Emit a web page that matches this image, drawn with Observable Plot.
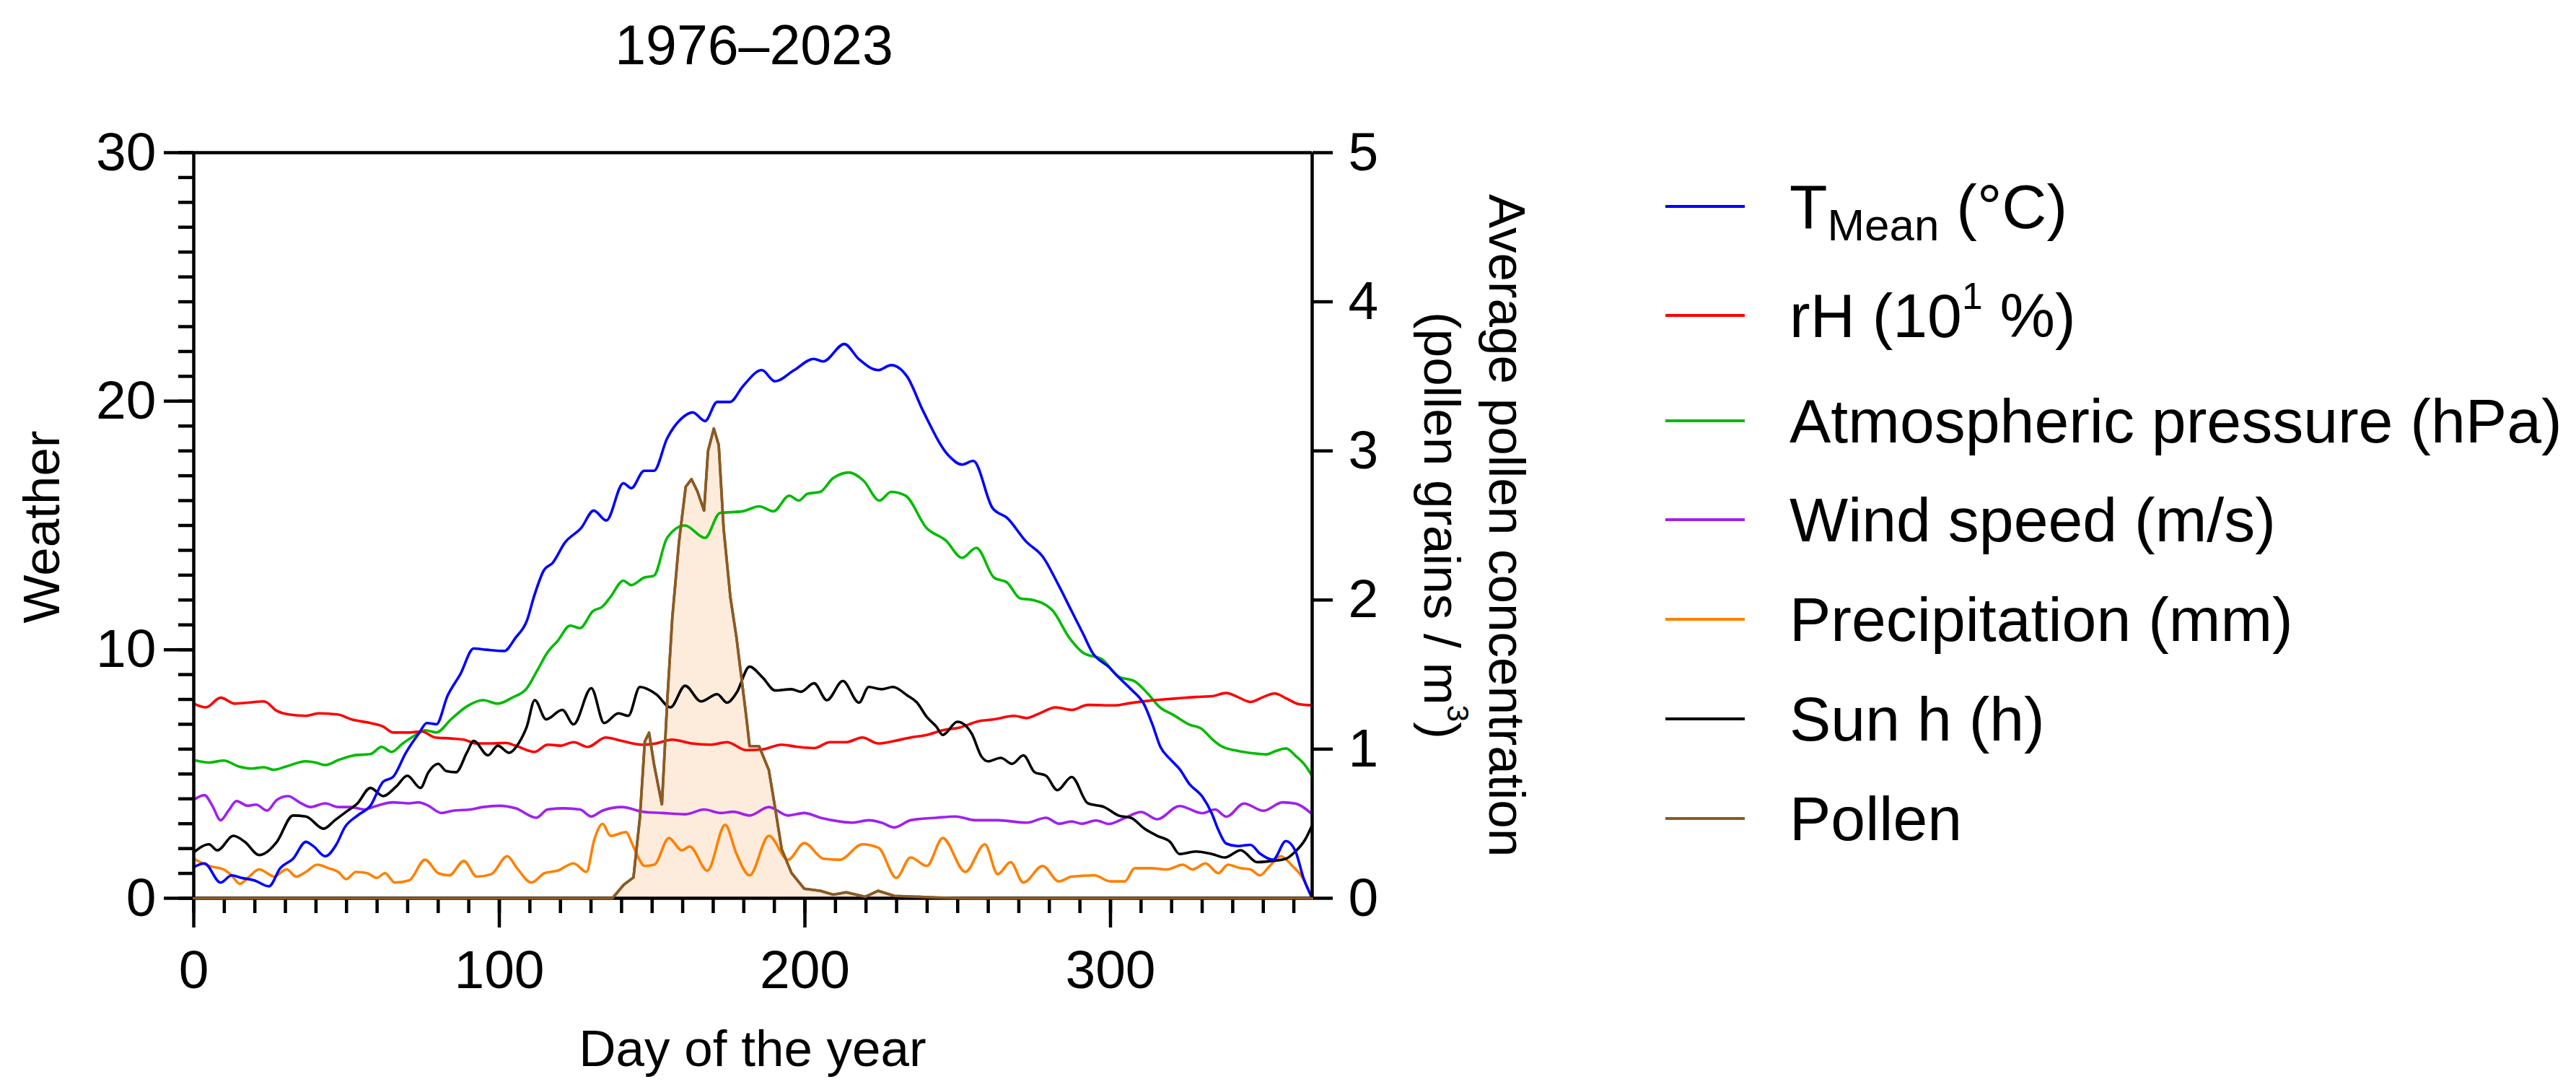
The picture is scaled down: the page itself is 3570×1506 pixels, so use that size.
<!DOCTYPE html>
<html>
<head>
<meta charset="utf-8">
<script src="https://cdn.jsdelivr.net/npm/d3@7"></script>
<script src="https://cdn.jsdelivr.net/npm/@observablehq/plot@0.6"></script>
<style>
  html, body { margin: 0; padding: 0; background: #fff; }
  body { width: 3570px; height: 1506px; position: relative; overflow: hidden;
         font-family: "Liberation Sans", Arial, sans-serif; color: #000; }
  #chart { position: absolute; left: 0; top: 0; }
  .lbl { position: absolute; white-space: nowrap; line-height: 1; }
  .legend-row { position: absolute; left: 2308px; height: 100px; display: flex; align-items: center;
                font-size: 86px; white-space: nowrap; line-height: 1; }
  .legend-row .sw { width: 110px; height: 4.5px; margin-right: 62px; }
  sub, sup { line-height: 0; }
  sub { font-size: 72%; vertical-align: -0.28em; }
  sup { font-size: 60%; vertical-align: 0.75em; }
</style>
</head>
<body>
<div id="chart"></div>
<script>
// ---------------- data ----------------
const dayDomain = [0, 366];
const weatherTicks = [0, 10, 20, 30];
const dayTicks = [0, 100, 200, 300];
const pollenTicks = [0, 1, 2, 3, 4, 5];
const pollenScale = 6; // 5 pollen units span 30 weather units

const seriesNames = ["TMean (°C)", "rH (10¹ %)", "Atmospheric pressure (hPa)", "Wind speed (m/s)", "Precipitation (mm)", "Sun h (h)", "Pollen"];
const seriesColors = ["#0000ff", "#ff0000", "#00bb00", "#a020f0", "#ff8000", "#000000", "#8b5a24"];

const tmean = [[0,1.25],[3.5,1.40],[8.8,0.63],[12.4,0.92],[15.6,0.82],[19.8,0.72],[24.6,0.48],[28.3,1.21],[32.5,1.59],[36.7,2.27],[39.3,2.08],[43,1.69],[46.7,2.17],[49.4,2.85],[53.6,3.33],[57.8,3.72],[62,4.69],[65.2,4.88],[69.4,5.85],[73.6,6.62],[76.3,7.05],[79.4,7.0],[83.1,8.16],[87.3,9.03],[91.6,10.05],[95.8,10.0],[101.6,9.95],[105.3,10.48],[109,11.16],[111.5,12.2],[114.6,13.2],[117.5,13.5],[121.4,14.3],[126.8,14.9],[130.9,15.6],[135,15.2],[140.6,16.7],[143.2,16.5],[147.4,17.2],[150.6,17.2],[154.9,18.5],[159.6,19.3],[163.3,19.55],[167.3,19.2],[171.3,19.97],[175.5,19.97],[179.7,20.6],[185.9,21.25],[190.2,20.8],[196.5,21.25],[202.9,21.7],[206,21.6],[212.9,22.3],[217.6,21.7],[224,21.25],[228.2,21.45],[233.4,21.0],[238.7,19.6],[247.1,17.8],[251.4,17.45],[255.1,17.6],[261.4,15.7],[266.2,15.3],[272.4,14.35],[277.8,13.75],[283,12.6],[287.3,11.55],[291,10.65],[294,9.9],[299.5,9.3],[302.6,8.9],[306.8,8.4],[311,7.8],[313.7,7.0],[316.3,6.1],[319.5,5.6],[322.6,5.2],[325.8,4.6],[330,4.1],[333.2,3.4],[335.3,2.75],[337.9,2.2],[341.6,2.1],[345.8,2.15],[348.9,1.8],[353.2,1.55],[357.4,2.3],[360.5,1.9],[363.2,0.8],[366,0]];

const rh = [[0,7.83],[4,7.68],[8.8,8.07],[13.5,7.83],[17.7,7.87],[23,7.92],[27.2,7.54],[31.4,7.39],[36.7,7.34],[40.9,7.44],[47.3,7.39],[51.5,7.2],[57.8,7.05],[62,6.91],[65.2,6.67],[70.5,6.67],[74.7,6.71],[78.9,6.47],[84.2,6.43],[88.4,6.38],[92.6,6.23],[97.9,6.23],[102.1,6.25],[105.3,6.14],[111.6,5.89],[115.8,6.18],[120,6.14],[124.3,6.28],[129,6.09],[134.8,6.47],[140.1,6.33],[147,6.18],[151.3,6.23],[156.5,6.38],[162.9,6.23],[169.2,6.18],[174.5,6.28],[180.8,5.96],[186.1,5.99],[192.4,6.18],[197.7,6.09],[203,6.04],[208.2,6.28],[213.5,6.28],[218.8,6.47],[224,6.23],[229.3,6.33],[234.6,6.47],[239.9,6.57],[245.1,6.76],[250.4,6.86],[256.8,7.12],[262,7.2],[268.4,7.34],[272.6,7.25],[276.8,7.44],[282.1,7.68],[287.3,7.58],[292.6,7.78],[301.6,7.76],[306.8,7.86],[312,7.94],[317.4,8.0],[322.6,8.05],[327.9,8.1],[333.2,8.13],[337.9,8.26],[341.6,8.1],[345.8,7.9],[350,8.1],[353.7,8.24],[357.4,8.05],[361.6,7.81],[366,7.76]];

const pressure = [[0,5.56],[5,5.46],[9.8,5.54],[14.6,5.31],[18.8,5.22],[23,5.27],[26.2,5.17],[30.4,5.31],[36.7,5.51],[39.9,5.46],[43,5.36],[47.3,5.56],[52.5,5.75],[57.8,5.8],[61.5,6.09],[64.7,5.89],[68.4,6.23],[72.6,6.57],[75.7,6.76],[79.4,6.67],[84.2,7.2],[89.5,7.73],[94.7,7.97],[99.5,7.83],[104.2,8.07],[109,8.45],[112.7,9.23],[115.8,9.9],[119,10.34],[123.2,10.97],[126.4,10.87],[130.6,11.55],[133.8,11.74],[136.4,12.13],[140.6,12.78],[143.2,12.6],[147.4,12.9],[150.6,12.98],[154.9,14.5],[160.7,15.0],[167.3,14.5],[172.2,15.5],[179.7,15.57],[185,15.77],[189.7,15.57],[194.9,16.2],[198,16.0],[200.8,16.27],[205,16.35],[209.2,16.9],[214.5,17.13],[219.2,16.8],[224.4,16.0],[228.2,16.35],[232.9,16.2],[239.8,14.9],[246.1,14.4],[251.4,13.7],[256.1,14.1],[261.9,12.9],[266.2,12.7],[270.4,12.07],[274.6,12.0],[280.9,11.6],[286.7,10.45],[291,9.88],[297.4,9.6],[302.6,8.92],[307.9,8.73],[312.1,8.25],[316.3,7.67],[320.5,7.38],[325.8,6.99],[330,6.8],[333.2,6.41],[336.3,6.12],[341.6,5.93],[346.8,5.83],[351.1,5.79],[354.2,5.93],[357.4,6.03],[360.5,5.74],[363.7,5.35],[366,4.92]];

const wind = [[0,3.96],[3.5,4.15],[6.1,3.72],[8.8,3.14],[11.4,3.53],[14,3.91],[17.7,3.72],[20.4,3.77],[24,3.53],[27.2,3.96],[30.9,4.11],[34.6,3.86],[38.3,3.67],[43,3.82],[47.3,3.67],[51.5,3.67],[55.7,3.57],[59.9,3.72],[65.2,3.86],[70.5,3.82],[73.6,3.86],[76.8,3.72],[81,3.43],[85.2,3.53],[90.5,3.57],[94.7,3.67],[100,3.72],[105.3,3.62],[112.1,3.24],[115.8,3.57],[121.1,3.62],[126.4,3.57],[130.1,3.29],[133.8,3.53],[140.1,3.67],[147,3.48],[153.4,3.43],[160.8,3.38],[167.1,3.57],[172.4,3.43],[176.6,3.48],[181.9,3.33],[188.2,3.67],[194.5,3.33],[199.8,3.43],[205.1,3.24],[211.4,3.09],[215.6,3.04],[220.9,3.14],[225.1,3.04],[229.3,2.85],[234.6,3.14],[243,3.24],[249.4,3.29],[255.7,3.14],[263.1,3.14],[272.6,3.04],[278.9,3.24],[283.1,3.0],[287.3,3.09],[290.5,3.0],[295.3,3.13],[299.5,2.99],[304.7,3.23],[310,3.47],[315.3,3.18],[322.6,3.71],[330,3.42],[334.2,3.57],[337.9,3.28],[343.7,3.81],[350,3.52],[356.3,3.86],[360.5,3.81],[366,3.38]];

const precip = [[0,1.59],[5,1.30],[9.8,1.16],[12.4,0.92],[15.1,0.58],[17.7,0.82],[21.4,1.16],[24.6,0.97],[26.2,0.87],[30.4,1.16],[33.5,0.87],[36.7,1.06],[40.4,1.35],[44.1,1.21],[47.3,1.06],[49.9,0.77],[53.1,1.06],[56.8,1.01],[59.9,0.82],[62.6,1.01],[65.8,0.63],[70.5,0.72],[75.7,1.55],[80,1.01],[83.6,0.92],[88.4,1.5],[92.6,0.87],[97.4,0.97],[102.6,1.69],[105.8,1.21],[110.5,0.63],[114.8,1.01],[119,1.11],[124.3,1.40],[128.5,1.06],[131.1,2.37],[133.8,2.99],[136.4,2.51],[141.5,2.66],[143.2,2.27],[144.9,1.79],[147.6,1.30],[150.7,1.35],[155.5,2.42],[159.7,1.93],[162.3,2.08],[168.1,1.11],[173.9,2.95],[177.6,1.79],[181.9,0.92],[188.2,2.51],[194.5,1.55],[199.8,2.22],[206.1,1.59],[211.4,1.55],[218.8,2.17],[224.1,2.03],[229.9,0.82],[234.6,1.64],[239.9,1.30],[245.1,2.42],[252.5,1.06],[258.9,2.17],[263.1,0.97],[267.3,1.45],[271.5,0.63],[277.8,1.30],[283.1,0.68],[287.3,0.87],[294.7,0.92],[300,0.68],[304.7,0.68],[307.9,1.21],[313.2,1.21],[318.4,1.16],[323.7,1.35],[326.8,1.16],[331.1,1.40],[335.3,1.01],[338.4,1.35],[342.6,1.21],[345.8,1.16],[348.9,0.92],[352.1,1.30],[355.8,1.69],[359.5,1.30],[362.6,0.87],[366,0]];

const sun = [[0,1.84],[5,2.17],[7.7,1.93],[13,2.51],[16.7,2.27],[21.4,1.74],[23,1.79],[27.2,2.27],[32.5,3.33],[36.7,3.29],[42.5,2.8],[46.2,3.14],[49.9,3.48],[53.6,3.82],[57.8,4.44],[62,4.11],[66.2,4.49],[69.9,4.93],[74.2,4.44],[76.8,5.07],[80,5.41],[82.6,5.12],[85.8,5.07],[89.5,5.89],[91.6,6.33],[96.3,5.75],[99.5,6.14],[103.2,5.85],[106.3,6.23],[109,6.91],[111.6,7.97],[115.3,7.2],[120.6,7.58],[124.3,7.0],[130.1,8.45],[134.3,7.05],[139,7.44],[142.2,7.34],[146,8.5],[151.3,8.21],[156,7.68],[160.8,8.55],[166,7.92],[171.3,8.21],[174.5,7.87],[177.6,8.26],[181.9,9.32],[186.1,8.89],[190.3,8.36],[195.6,8.41],[198.7,8.31],[203,8.65],[207.2,7.97],[212.4,8.74],[217.7,7.87],[220.9,8.5],[225.1,8.41],[228.8,8.5],[233.5,8.16],[236.7,7.87],[239.9,7.29],[243,6.91],[245.1,6.57],[249.9,7.1],[254.6,6.62],[257.8,5.7],[259.9,5.51],[264.1,5.65],[267.8,5.41],[271.5,5.75],[275.2,5.07],[278.9,4.93],[282.6,4.35],[287.3,4.88],[292.6,3.82],[297.9,3.67],[302.6,3.33],[306.8,3.23],[311.1,2.8],[315.3,2.51],[319.5,2.27],[322.6,1.78],[327.9,1.88],[333.2,1.78],[337.4,1.64],[342.6,1.93],[348,1.45],[352.1,1.49],[357.4,1.59],[360.5,1.88],[363.7,2.36],[366,2.94]];

const pollen = [[0,0],[137,0],[140.7,0.09],[143.9,0.14],[146,0.54],[147.6,1.05],[149,1.11],[150.7,0.89],[153.2,0.63],[155,1.34],[156.6,1.88],[158.8,2.39],[161,2.76],[162.9,2.81],[164.8,2.73],[167,2.6],[168.3,3.0],[170.2,3.15],[171.8,3.04],[173.4,2.48],[175.6,2.02],[177.6,1.75],[180.8,1.22],[181.9,1.02],[185,1.02],[188.2,0.86],[190.3,0.60],[192.4,0.33],[195.6,0.17],[199.8,0.064],[205.1,0.05],[209.3,0.024],[213.5,0.04],[219.8,0.01],[224,0.05],[229.3,0.016],[243,0.005],[253.6,0],[366,0]];

// ---------------- chart ----------------
const weatherSeries = [tmean, rh, pressure, wind, precip, sun];
const AX = 4.5;   // axis stroke
const LW = 3.6;   // series stroke
const font = "'Liberation Sans', Arial, sans-serif";

const lineMarks = [];
// draw order roughly like the original: pressure, rh, wind, precip, sun, tmean on top
[2, 1, 3, 4, 5, 0].forEach(i => {
  lineMarks.push(Plot.line(weatherSeries[i], {x: d => d[0], y: d => d[1], stroke: seriesColors[i], strokeWidth: LW, curve: "monotone-x"}));
});

const chart = Plot.plot({
  width: 3570,
  height: 1506,
  marginLeft: 268,
  marginRight: 1752,
  marginTop: 211,
  marginBottom: 262,
  style: {fontFamily: font, color: "#000", background: "transparent", overflow: "visible"},
  x: {domain: dayDomain},
  y: {domain: [0, 30]},
  marks: [
    Plot.areaY(pollen, {x: d => d[0], y: d => d[1] * pollenScale, fill: "#fdebdb", curve: "linear"}),
    ...lineMarks,
    Plot.line(pollen, {x: d => d[0], y: d => d[1] * pollenScale, stroke: seriesColors[6], strokeWidth: LW, curve: "linear"}),
    // frame lines
    Plot.ruleY([30], {stroke: "#000", strokeWidth: AX}),
    Plot.ruleX([dayDomain[0]], {stroke: "#000", strokeWidth: AX}),
    Plot.ruleX([dayDomain[1]], {stroke: "#000", strokeWidth: AX}),
    // left axis: minor + major
    Plot.axisY({anchor: "left", ticks: d3.range(0, 31, 1), tickSize: 21, tickFormat: () => "", strokeWidth: AX, label: null}),
    Plot.axisY({anchor: "left", ticks: weatherTicks, tickSize: 41, tickPadding: 11, fontSize: 75, strokeWidth: AX, label: null}),
    // right axis (pollen)
    Plot.axisY({anchor: "right", ticks: pollenTicks.map(p => p * pollenScale), tickFormat: d => String(Math.round(d / pollenScale)), tickSize: 28, tickPadding: 22, fontSize: 75, strokeWidth: AX, label: null}),
    // bottom axis: minor + major
    Plot.axisX({ticks: d3.range(0, 361, 10), tickSize: 21, tickFormat: () => "", strokeWidth: AX, label: null}),
    Plot.axisX({ticks: dayTicks, tickSize: 41, tickPadding: 30, fontSize: 75, strokeWidth: AX, label: null}),
    // x-axis line at zero (pollen line sits on it)
    Plot.ruleY([0], {stroke: "#000", strokeWidth: AX}),
    Plot.line(pollen.filter(d => d[1] === 0 || true), {x: d => d[0], y: d => d[1] * pollenScale, stroke: seriesColors[6], strokeWidth: LW, curve: "linear"})
  ]
});
document.getElementById("chart").appendChild(chart);

// ---------------- text: title, axis labels, legend ----------------
function addLabel(html, x, y, rot, size, extra) {
  const d = document.createElement("div");
  d.className = "lbl";
  d.innerHTML = html;
  d.style.left = x + "px";
  d.style.top = y + "px";
  d.style.fontSize = size + "px";
  d.style.transform = `translate(-50%,-50%) rotate(${rot}deg)`;
  if (extra) Object.assign(d.style, extra);
  document.body.appendChild(d);
}
addLabel("1976–2023", 1045, 62, 0, 77);
addLabel("Day of the year", 1043, 1452, 0, 71);
addLabel("Weather", 57, 730, -90, 71);
addLabel("Average pollen concentration<br>(pollen grains / m<sup>3</sup>)", 2043, 728, 90, 71, {textAlign: "center", lineHeight: "90px"});

const legendLabels = ["T<sub>Mean</sub> (°C)", "rH (10<sup>1</sup> %)", "Atmospheric pressure (hPa)", "Wind speed (m/s)", "Precipitation (mm)", "Sun h (h)", "Pollen"];
const legendY = [286, 437, 583, 720, 858, 996, 1134];
legendLabels.forEach((lab, i) => {
  const row = document.createElement("div");
  row.className = "legend-row";
  row.style.top = (legendY[i] - 50) + "px";
  row.innerHTML = `<span class="sw" style="background:${seriesColors[i]}"></span><span>${lab}</span>`;
  document.body.appendChild(row);
});
</script>
</body>
</html>
